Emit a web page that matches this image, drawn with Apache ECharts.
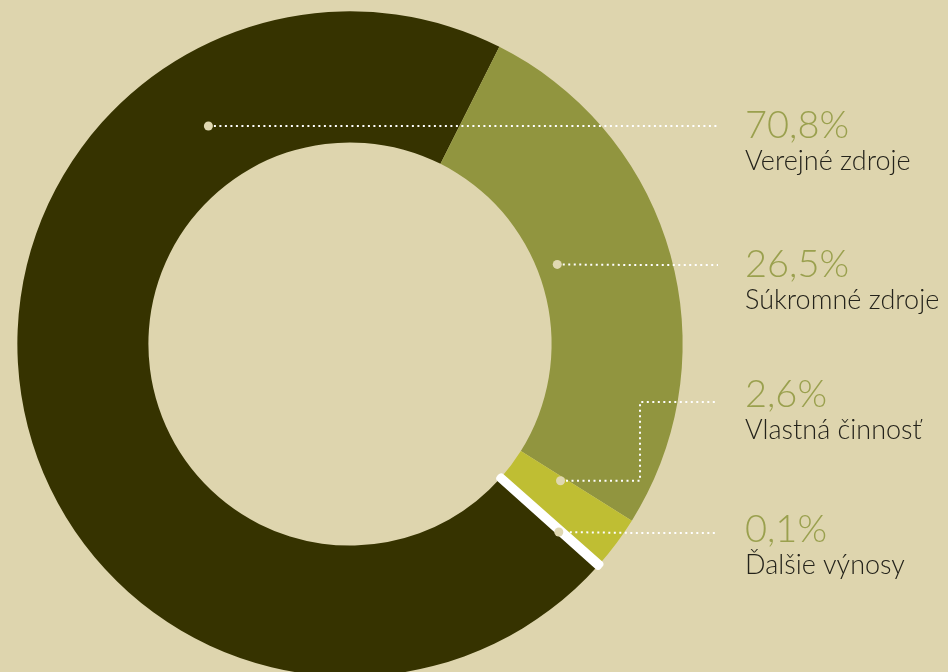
<!DOCTYPE html>
<html lang="sk">
<head>
    <meta charset="UTF-8">
    <title>Zdroje financovania</title>
    <script src="https://cdn.jsdelivr.net/npm/echarts@6/dist/echarts.min.js"></script>
    <style>
        html, body { margin: 0; padding: 0; background: #ded5ae; }
    </style>
</head>
<body>
<div id="pie" style="width: 948px;height: 672px;"></div>
<script>
    // data
    var names = ['Verejné zdroje', 'Súkromné zdroje', 'Vlastná činnosť', 'Ďalšie výnosy'];
    var values = [70.8, 26.5, 2.6, 0.1];
    var percentLabels = ['70,8%', '26,5%', '2,6%', '0,1%'];
    var colors = ['#363300', '#91953f', '#bfbe33', '#ffffff'];

    // where each leader line starts inside the ring: [radius px, angle deg clockwise from top]
    var anchors = [[260, -33], [222, 69], [251, 123], [281, 132]];

    var CX = 350, CY = 344;
    var labelX = 745, lineEndX = 718;
    var labelCenterY = [126, 265, 395, 530];
    var lineY = [126, 265, 402, 533];

    function anchorPoint(i) {
        var r = anchors[i][0], a = anchors[i][1] * Math.PI / 180;
        return [CX + r * Math.sin(a), CY - r * Math.cos(a)];
    }

    var dom = document.getElementById('pie');
    var myChart = echarts.init(dom, null, {renderer: 'canvas'});

    var list = names.map(function (n, i) {
        var item = {name: n, value: values[i], itemStyle: {color: colors[i]}};
        if (i === 3) {
            item.itemStyle.borderColor = '#ffffff';
            item.itemStyle.borderWidth = 8;
        }
        return item;
    });
    // same slices, transparent, only to carry labels and leader lines above the ring
    var overlay = names.map(function (n, i) {
        return {name: n, value: values[i]};
    });

    var pieBase = {
        type: 'pie',
        center: [CX, CY],
        radius: ['60%', '99%'],
        startAngle: -41.8,
        clockwise: true,
        avoidLabelOverlap: false,
        silent: true,
        emphasis: {scale: false}
    };

    var option = {
        backgroundColor: '#ded5ae',
        animation: false,
        polar: {center: [CX, CY], radius: 336},
        angleAxis: {show: false, type: 'value', min: 0, max: 360, startAngle: 90, clockwise: true},
        radiusAxis: {show: false, type: 'value', min: 0, max: 336},
        series: [Object.assign({}, pieBase, {
            name: 'Zdroje',
            z: 2,
            label: {show: false},
            labelLine: {show: false},
            data: list
        }), Object.assign({}, pieBase, {
            name: 'Popisy',
            z: 4,
            itemStyle: {color: 'rgba(0,0,0,0)'},
            label: {
                show: true,
                position: 'outside',
                formatter: function (p) {
                    return '{p|' + percentLabels[p.dataIndex] + '}\n{n|' + p.name + '}';
                },
                rich: {
                    p: {fontFamily: 'Lato', fontWeight: 300, fontSize: 38, color: '#9aa04e', lineHeight: 40},
                    n: {fontFamily: 'Lato', fontWeight: 300, fontSize: 27, color: '#24231b', lineHeight: 30}
                }
            },
            labelLine: {
                show: true,
                lineStyle: {color: '#ffffff', width: 2, type: [2, 3.5]}
            },
            labelLayout: function (params) {
                var i = params.dataIndex;
                var s = anchorPoint(i);
                var pts;
                if (i === 2) {
                    pts = [s, [640, s[1]], [640, lineY[i]], [lineEndX, lineY[i]]];
                } else {
                    pts = [s, [(s[0] + lineEndX) / 2, lineY[i]], [lineEndX, lineY[i]]];
                }
                return {
                    x: labelX,
                    y: labelCenterY[i] - 20,
                    align: 'left',
                    verticalAlign: 'top',
                    hideOverlap: false,
                    labelLinePoints: pts
                };
            },
            data: overlay
        }), {
            type: 'scatter',
            coordinateSystem: 'polar',
            silent: true,
            symbolSize: 9,
            itemStyle: {color: '#e0d8b1', opacity: 1},
            z: 6,
            data: anchors.map(function (a) { return [a[0], (a[1] + 360) % 360]; })
        }]
    };

    myChart.setOption(option);
</script>
</body>
</html>
